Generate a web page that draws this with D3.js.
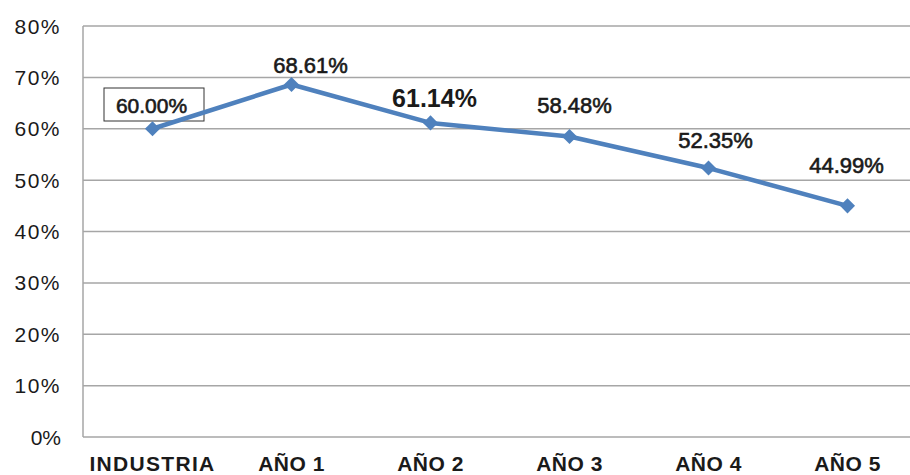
<!DOCTYPE html>
<html>
<head>
<meta charset="utf-8">
<script src="https://cdn.jsdelivr.net/npm/d3@7"></script>
<style>
  html, body { margin: 0; padding: 0; background: #fff; }
  svg { display: block; }
  text { font-family: "Liberation Sans", Arial, sans-serif; fill: #1a1a1a; }
</style>
</head>
<body>
<svg id="chart" width="910" height="475"></svg>
<script>
const categories = ["INDUSTRIA", "AÑO 1", "AÑO 2", "AÑO 3", "AÑO 4", "AÑO 5"];
const values = [60.00, 68.61, 61.14, 58.48, 52.35, 44.99];
const valueLabels = ["60.00%", "68.61%", "61.14%", "58.48%", "52.35%", "44.99%"];
const yTicks = [0, 10, 20, 30, 40, 50, 60, 70, 80];

(function () {
const svg = d3.select("#chart");
const pL = 83, pR = 917, pT = 26, pB = 437;

const x = d3.scalePoint().domain(categories).range([pL, pR]).padding(0.5);
const y = d3.scaleLinear().domain([0, 80]).range([pB, pT]);

// gridlines
svg.append("g").selectAll("line").data(yTicks).join("line")
  .attr("x1", pL).attr("x2", 910)
  .attr("y1", d => y(d)).attr("y2", d => y(d))
  .attr("stroke", "#a6a6a6").attr("stroke-width", 1.5);

// left axis line
svg.append("line").attr("x1", pL).attr("x2", pL).attr("y1", pT).attr("y2", pB)
  .attr("stroke", "#a6a6a6").attr("stroke-width", 1.5);

// y tick labels
svg.append("g").selectAll("text").data(yTicks).join("text")
  .attr("x", 61).attr("y", d => y(d) + 7.5)
  .attr("text-anchor", "end")
  .style("font-size", "21px")
  .style("letter-spacing", d => d === 0 ? "0px" : "1.5px")
  .text(d => d + "%");

// x labels
svg.append("g").selectAll("text").data(categories).join("text")
  .attr("x", d => x(d)).attr("y", 471)
  .attr("text-anchor", "middle")
  .style("font-size", "21px").style("font-weight", "bold")
  .style("letter-spacing", d => d === "INDUSTRIA" ? "1.3px" : "0.5px")
  .text(d => d);

// box around first label
svg.append("rect")
  .attr("x", 104).attr("y", 88)
  .attr("width", 100).attr("height", 33)
  .attr("fill", "#fff").attr("stroke", "#333").attr("stroke-width", 1);

// line
const pts = categories.map((c, i) => [x(c), y(values[i])]);
svg.append("path").datum(pts)
  .attr("d", d3.line())
  .attr("fill", "none").attr("stroke", "#4f81bd").attr("stroke-width", 4.5)
  .attr("stroke-linejoin", "round");

// markers
svg.append("g").selectAll("path").data(pts).join("path")
  .attr("transform", d => `translate(${d[0]},${d[1]})`)
  .attr("d", d3.symbol(d3.symbolDiamond2, 145))
  .attr("fill", "#4f81bd");

// data labels
const labelStyle = [
  {dx: -1, dy: -16, size: 21, weight: "normal"},
  {dx: 19, dy: -12, size: 22, weight: "normal"},
  {dx: 4, dy: -16, size: 25, weight: "bold"},
  {dx: 5, dy: -24, size: 22, weight: "normal"},
  {dx: 7, dy: -20, size: 22, weight: "normal"},
  {dx: -1, dy: -33, size: 22, weight: "normal"}
];
svg.append("g").selectAll("text").data(categories).join("text")
  .attr("x", (d, i) => x(d) + labelStyle[i].dx)
  .attr("y", (d, i) => y(values[i]) + labelStyle[i].dy)
  .attr("text-anchor", "middle")
  .style("font-size", (d, i) => labelStyle[i].size + "px")
  .style("font-weight", (d, i) => labelStyle[i].weight)
  .style("stroke", (d, i) => labelStyle[i].weight === "bold" ? "none" : "#1a1a1a")
  .style("stroke-width", "0.6px")
  .text((d, i) => valueLabels[i]);
})();
</script>
</body>
</html>
